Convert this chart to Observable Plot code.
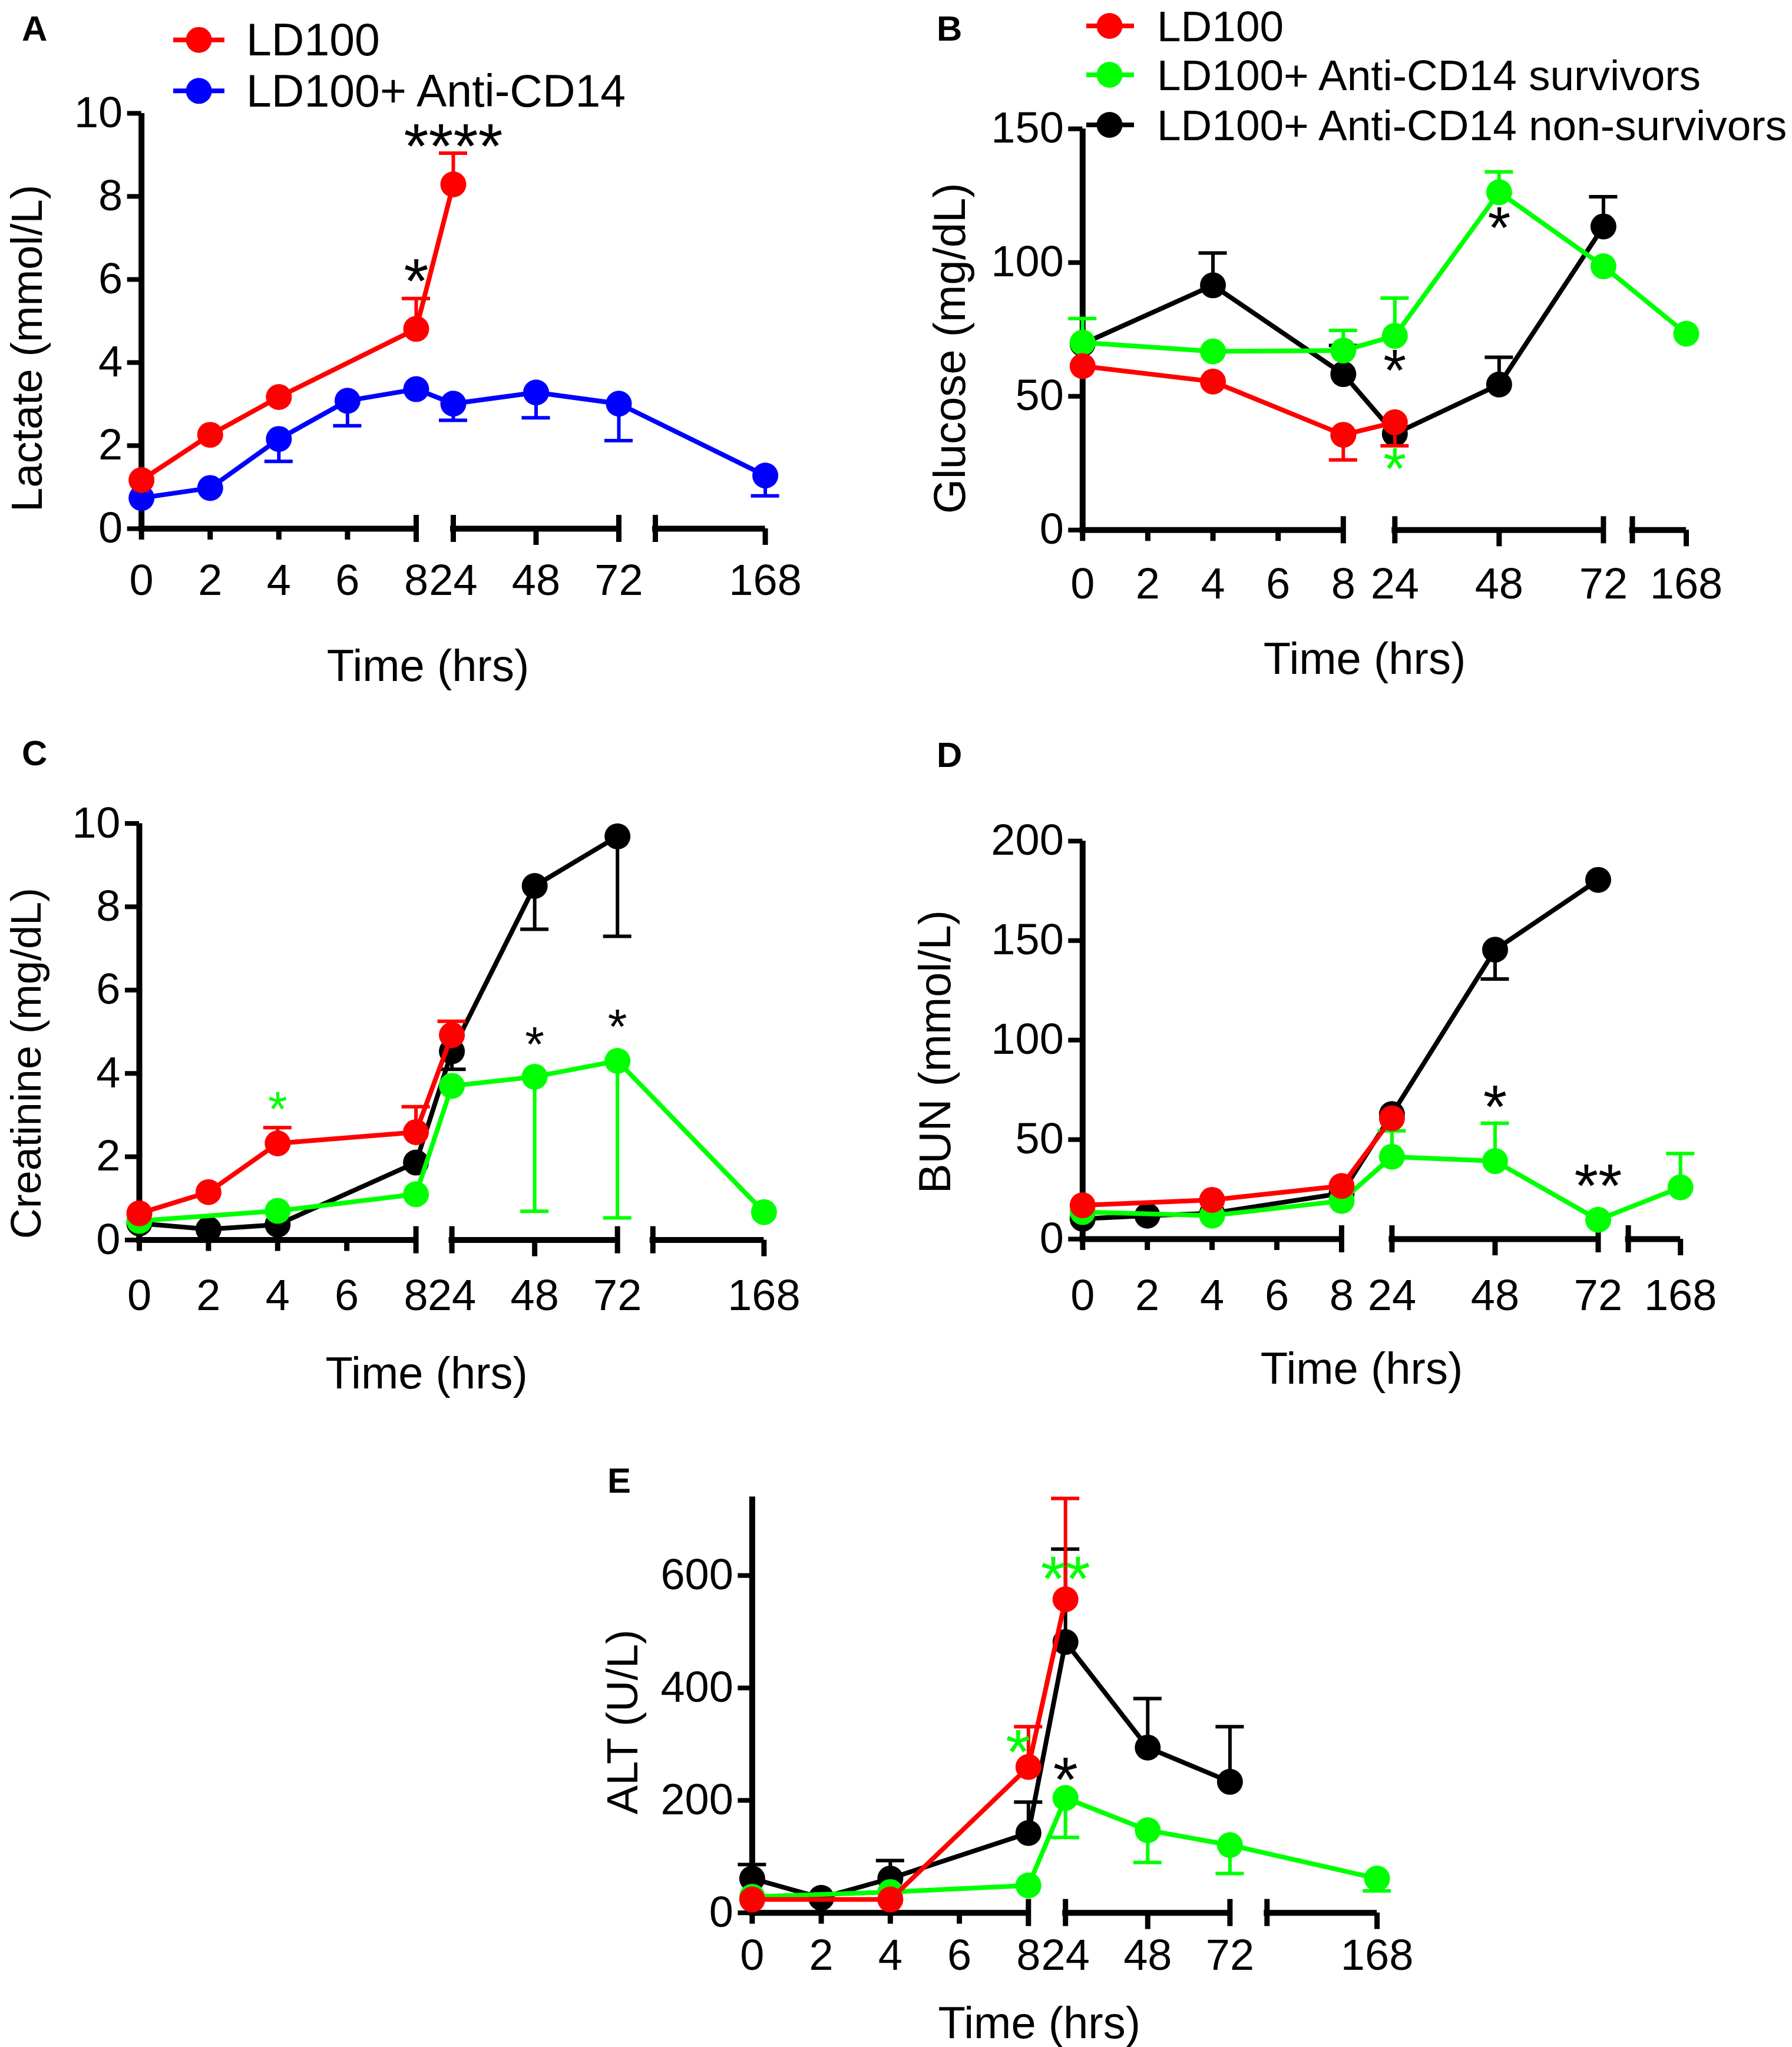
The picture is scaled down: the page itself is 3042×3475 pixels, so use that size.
<!DOCTYPE html>
<html>
<head>
<meta charset="utf-8">
<script src="https://cdn.jsdelivr.net/npm/d3@7"></script>
<script src="https://cdn.jsdelivr.net/npm/@observablehq/plot@0.6"></script>
<style>
html,body{margin:0;padding:0;background:#fff;}
#page{position:relative;width:3042px;height:3475px;overflow:hidden;background:#fff;}
.panel{position:absolute;}
.panel svg{max-width:none !important;}
#overlay{position:absolute;left:0;top:0;}
</style>
</head>
<body>
<div id="page"></div>
<script>
const FONT = "'Liberation Sans', Arial, Helvetica, sans-serif";
const RED = "#ff0000", BLUE = "#0000ff", GREEN = "#00ff00", BLACK = "#000000";

// ---------- shared broken time axis ----------
const hourTicks = [0, 2, 4, 6, 8, 24, 48, 72, 168];
const axisBreaks = [0, 8, 24, 72, 120, 168];
const axisSegments = [[0, 8], [24, 72], [120, 168]];
const shortTicks = [0, 2, 4, 6];
const longTicks = [48, 168];
const breakCaps = [8, 24, 72, 120];
const xTitleText = "Time (hrs)";

// ---------- Panel A : Lactate ----------
const lacTimeLD100 = [0, 2, 4, 8, 24];
const lacLD100 = [1.17, 2.26, 3.17, 4.81, 8.29];
const lacLD100Err = [null, null, null, 5.54, 9.04];
const lacTimeCD14 = [0, 2, 4, 6, 8, 24, 48, 72, 168];
const lacCD14 = [0.74, 0.98, 2.16, 3.08, 3.36, 3.01, 3.28, 3.01, 1.28];
const lacCD14Err = [null, null, 1.62, 2.48, null, 2.61, 2.67, 2.12, 0.79];
const lacTicks = [0, 2, 4, 6, 8, 10];
const lacStarTime = [8, 24];
const lacStarValue = [6.16, 9.41];
const lacStarText = ["*", "****"];
const lacStarColor = [BLACK, BLACK];

// ---------- Panel B : Glucose ----------
const gluTimeLD100 = [0, 4, 8, 24];
const gluLD100 = [61.3, 55.5, 35.6, 40.3];
const gluLD100Err = [null, null, 26.2, 31.5];
const gluTimeSurv = [0, 4, 8, 24, 48, 72, 168];
const gluSurv = [70.1, 66.8, 67.1, 72.6, 126.3, 98.6, 73.4];
const gluSurvErr = [79.1, null, 74.6, 86.7, 133.9, null, null];
const gluTimeNon = [0, 4, 8, 24, 48, 72];
const gluNon = [69.6, 91.5, 58.3, 36.0, 54.4, 113.5];
const gluNonErr = [null, 103.6, 69.0, null, 64.6, 124.6];
const gluTicks = [0, 50, 100, 150];
const gluStarTime = [48, 24, 24];
const gluStarValue = [115.7, 62.5, 25.7];
const gluStarText = ["*", "*", "*"];
const gluStarColor = [BLACK, BLACK, GREEN];

// ---------- Panel C : Creatinine ----------
const creTimeLD100 = [0, 2, 4, 8, 24];
const creLD100 = [0.64, 1.15, 2.32, 2.59, 4.92];
const creLD100Err = [null, null, 2.70, 3.20, 5.25];
const creTimeNon = [0, 2, 4, 8, 24, 48, 72];
const creNon = [0.40, 0.26, 0.37, 1.86, 4.53, 8.50, 9.69];
const creNonErr = [null, null, null, null, 4.10, 7.46, 7.29];
const creTimeSurv = [0, 4, 8, 24, 48, 72, 168];
const creSurv = [0.46, 0.70, 1.10, 3.70, 3.92, 4.30, 0.67];
const creSurvErr = [null, null, null, null, 0.69, 0.53, null];
const creTicks = [0, 2, 4, 6, 8, 10];
const creStarTime = [4, 48, 72];
const creStarValue = [3.29, 4.84, 5.27];
const creStarText = ["*", "*", "*"];
const creStarColor = [GREEN, BLACK, BLACK];

// ---------- Panel D : BUN ----------
const bunTimeNon = [0, 2, 4, 8, 24, 48, 72];
const bunNon = [10.2, 11.8, 13.0, 23.0, 62.8, 145.4, 180.5];
const bunNonErr = [null, null, null, null, null, 130.7, null];
const bunTimeSurv = [0, 4, 8, 24, 48, 72, 168];
const bunSurv = [13.6, 11.8, 19.2, 41.4, 39.2, 9.7, 26.0];
const bunSurvErr = [null, null, null, 54.4, 58.2, null, 43.0];
const bunTimeLD100 = [0, 4, 8, 24];
const bunLD100 = [17.0, 19.7, 26.7, 60.7];
const bunLD100Err = [null, null, null, null];
const bunTicks = [0, 50, 100, 150, 200];
const bunStarTime = [48, 72];
const bunStarValue = [70.2, 30.6];
const bunStarText = ["*", "**"];
const bunStarColor = [BLACK, BLACK];

// ---------- Panel E : ALT ----------
const altTimeNon = [0, 2, 4, 8, 24, 48, 72];
const altNon = [61, 26.6, 61, 141.9, 481.7, 294, 233];
const altNonErr = [86, null, 93, 197, 647, 381, 331];
const altTimeSurv = [0, 4, 8, 24, 48, 72, 168];
const altSurv = [28.6, 37, 48.7, 204.3, 146.9, 120.5, 61];
const altSurvErr = [null, null, null, 134, 89.6, 70, 39];
const altTimeLD100 = [0, 4, 8, 24];
const altLD100 = [23.7, 23.7, 259.5, 557.7];
const altLD100Err = [null, null, 331, 737];
const altTicks = [0, 200, 400, 600];
const altStarTime = [7.7, 24, 24];
const altStarValue = [301, 609, 251];
const altStarText = ["*", "**", "*"];
const altStarColor = [GREEN, GREEN, BLACK];

// ---------- legends ----------
const legendANames = ["LD100", "LD100+ Anti-CD14"];
const legendAColors = [RED, BLUE];
const legendBNames = ["LD100", "LD100+ Anti-CD14 survivors", "LD100+ Anti-CD14 non-survivors"];
const legendBColors = [RED, GREEN, BLACK];

// ---------- layout (page pixels) ----------
const layoutA = {left: 0, top: 0, width: 1500, height: 1180, xRange: [239.7, 706, 769, 1050, 1112, 1298.6], yTopPx: 191.9, y0Px: 897, xLabelPad: 60, xTitle: [726, 1155], yTitle: [70, 590.8]};
const layoutB = {left: 1500, top: 0, width: 1542, height: 1180, xRange: [1837.3, 2279.8, 2367.3, 2721.4, 2770.5, 2862], yTopPx: 218.2, y0Px: 899.3, xLabelPad: 64, xTitle: [2316, 1143], yTitle: [1637, 590.8]};
const layoutC = {left: 0, top: 1200, width: 1500, height: 1200, xRange: [236, 705.6, 766.6, 1047.7, 1107.8, 1296.4], yTopPx: 1397.4, y0Px: 2104.6, xLabelPad: 66, xTitle: [723.6, 2356], yTitle: [68, 1804.6]};
const layoutD = {left: 1500, top: 1200, width: 1542, height: 1200, xRange: [1837.3, 2276.9, 2362.4, 2712.5, 2763.6, 2852.2], yTopPx: 1427.3, y0Px: 2103, xLabelPad: 68, xTitle: [2311, 2348], yTitle: [1612, 1785]};
const layoutE = {left: 950, top: 2400, width: 1450, height: 1075, xRange: [1276.4, 1745.3, 1808.2, 2087.4, 2150.3, 2337.1], yTopPx: 2540.5, y0Px: 3246.7, xLabelPad: 44, xTitle: [1763.8, 3459], yTitle: [1081, 2922.7]};

function series(time, value, err, color) { return {time, value, err, color}; }
function stars(time, value, text, color) { return {time, value, text, color}; }

const panels = [
  {layout: layoutA, yMax: 10, yTicks: lacTicks, yTitle: "Lactate (mmol/L)", yTitleSize: 74, starSize: 108,
   series: [series(lacTimeCD14, lacCD14, lacCD14Err, BLUE), series(lacTimeLD100, lacLD100, lacLD100Err, RED)],
   stars: stars(lacStarTime, lacStarValue, lacStarText, lacStarColor)},
  {layout: layoutB, yMax: 150, yTicks: gluTicks, yTitle: "Glucose (mg/dL)", yTitleSize: 76, starSize: 100,
   series: [series(gluTimeNon, gluNon, gluNonErr, BLACK), series(gluTimeSurv, gluSurv, gluSurvErr, GREEN), series(gluTimeLD100, gluLD100, gluLD100Err, RED)],
   stars: stars(gluStarTime, gluStarValue, gluStarText, gluStarColor)},
  {layout: layoutC, yMax: 10, yTicks: creTicks, yTitle: "Creatinine (mg/dL)", yTitleSize: 72, starSize: 84,
   series: [series(creTimeNon, creNon, creNonErr, BLACK), series(creTimeSurv, creSurv, creSurvErr, GREEN), series(creTimeLD100, creLD100, creLD100Err, RED)],
   stars: stars(creStarTime, creStarValue, creStarText, creStarColor)},
  {layout: layoutD, yMax: 200, yTicks: bunTicks, yTitle: "BUN (mmol/L)", yTitleSize: 76, starSize: 104,
   series: [series(bunTimeNon, bunNon, bunNonErr, BLACK), series(bunTimeSurv, bunSurv, bunSurvErr, GREEN), series(bunTimeLD100, bunLD100, bunLD100Err, RED)],
   stars: stars(bunStarTime, bunStarValue, bunStarText, bunStarColor)},
  {layout: layoutE, yMax: 740, yTicks: altTicks, yTitle: "ALT (U/L)", yTitleSize: 74, starSize: 108,
   series: [series(altTimeNon, altNon, altNonErr, BLACK), series(altTimeSurv, altSurv, altSurvErr, GREEN), series(altTimeLD100, altLD100, altLD100Err, RED)],
   stars: stars(altStarTime, altStarValue, altStarText, altStarColor)}
];

function seriesMarks(s) {
  const rows = s.time.map((t, i) => ({t, v: s.value[i], e: s.err[i]}));
  const errRows = rows.filter(d => d.e != null);
  return [
    Plot.ruleX(errRows, {x: "t", y1: "v", y2: "e", stroke: s.color, strokeWidth: 6}),
    Plot.ruleY(errRows, {y: "e", x1: "t", x2: "t", insetLeft: -24, insetRight: -24, stroke: s.color, strokeWidth: 6}),
    Plot.line(rows, {x: "t", y: "v", stroke: s.color, strokeWidth: 8}),
    Plot.dot(rows, {x: "t", y: "v", fill: s.color, r: 22})
  ];
}

const page = document.getElementById("page");

for (const p of panels) {
  const L = p.layout;
  const marginLeft = L.xRange[0] - L.left;
  const marginTop = L.yTopPx - L.top;
  const marginBottom = L.top + L.height - L.y0Px;
  const rel = (ax, ay) => ({dx: ax - L.xRange[0], dy: ay - L.yTopPx});
  const marks = [
    Plot.ruleY(axisSegments, {y: () => 0, x1: d => d[0], x2: d => d[1], stroke: BLACK, strokeWidth: 10, insetLeft: -5}),
    Plot.ruleX([0], {x: d => d, y1: () => 0, y2: () => p.yMax, stroke: BLACK, strokeWidth: 10}),
    Plot.ruleX(shortTicks, {x: d => d, y1: () => 0, y2: () => 0, insetBottom: -19, stroke: BLACK, strokeWidth: 9}),
    Plot.ruleX(longTicks, {x: d => d, y1: () => 0, y2: () => 0, insetBottom: -28, stroke: BLACK, strokeWidth: 9}),
    Plot.ruleX(breakCaps, {x: d => d, y1: () => 0, y2: () => 0, insetTop: -23, insetBottom: -23, stroke: BLACK, strokeWidth: 9}),
    Plot.axisY({ticks: p.yTicks, tickSize: 24, tickPadding: 8, strokeWidth: 8, fontSize: 74, label: null}),
    Plot.axisX({ticks: hourTicks, tickSize: 0, tickPadding: L.xLabelPad, fontSize: 74, label: null}),
    Plot.text([xTitleText], {text: d => d, frameAnchor: "top-left", ...rel(L.xTitle[0], L.xTitle[1]), textAnchor: "middle", lineAnchor: "bottom", fontSize: 76, fill: BLACK}),
    Plot.text([p.yTitle], {text: d => d, frameAnchor: "top-left", ...rel(L.yTitle[0], L.yTitle[1]), rotate: -90, textAnchor: "middle", lineAnchor: "bottom", fontSize: p.yTitleSize, fill: BLACK})
  ];
  for (const s of p.series) marks.push(...seriesMarks(s));
  p.stars.time.forEach((t, i) => {
    marks.push(Plot.text([{t, v: p.stars.value[i], s: p.stars.text[i]}], {
      x: "t", y: "v", text: "s", fill: p.stars.color[i], fontSize: p.starSize,
      textAnchor: "middle", lineAnchor: "bottom", dy: 0.47 * p.starSize
    }));
  });
  const svg = Plot.plot({
    width: L.width, height: L.height,
    marginLeft, marginTop, marginBottom, marginRight: 0,
    x: {type: "linear", domain: axisBreaks, range: L.xRange.map(v => v - L.left)},
    y: {type: "linear", domain: [0, p.yMax]},
    style: {fontFamily: FONT, background: "transparent", overflow: "visible", color: BLACK},
    marks
  });
  const div = document.createElement("div");
  div.className = "panel";
  div.style.left = L.left + "px";
  div.style.top = L.top + "px";
  div.style.width = L.width + "px";
  div.style.height = L.height + "px";
  div.appendChild(svg);
  page.appendChild(div);
}

// ---------- overlay: panel letters and legends ----------
const panelLetters = ["A", "B", "C", "D", "E"];
const letterPos = [[37, 69], [1590, 69], [37, 1299], [1590, 1302], [1031, 2534]];
function legendSVG(names, colors, lineX, dotX, textX, dotY, baseY, fontSize) {
  return names.map((n, i) =>
    `<line x1="${lineX[0]}" x2="${lineX[1]}" y1="${dotY[i]}" y2="${dotY[i]}" stroke="${colors[i]}" stroke-width="8"/>` +
    `<circle cx="${dotX}" cy="${dotY[i]}" r="22" fill="${colors[i]}"/>` +
    `<text x="${textX}" y="${baseY[i]}" font-size="${fontSize}" fill="#000">${n}</text>`).join("");
}
let ov = `<svg id="overlay" width="3042" height="3475" font-family="${FONT.replace(/"/g, "")}" xmlns="http://www.w3.org/2000/svg">`;
ov += panelLetters.map((l, i) => `<text x="${letterPos[i][0]}" y="${letterPos[i][1]}" font-size="60" font-weight="bold">${l}</text>`).join("");
ov += legendSVG(legendANames, legendAColors, [294, 381], 337.6, 418, [67.7, 154.3], [94, 180.6], 77);
ov += legendSVG(legendBNames, legendBColors, [1844, 1925], 1883.5, 1964, [44, 127, 212], [70, 153, 238], 73);
ov += `</svg>`;
page.insertAdjacentHTML("beforeend", ov);
</script>
</body>
</html>
